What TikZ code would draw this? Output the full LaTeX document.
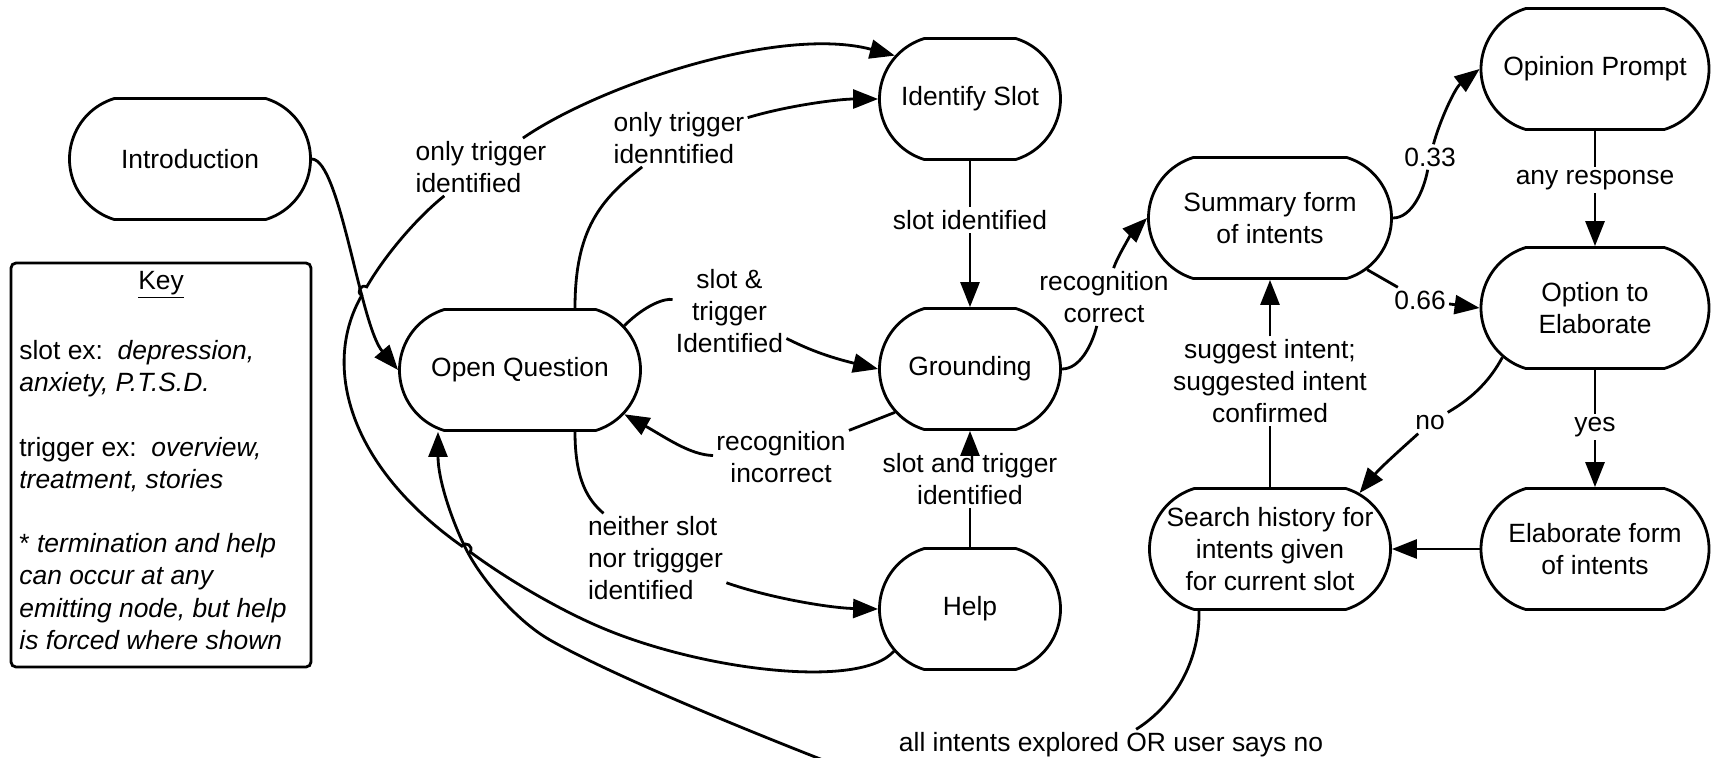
\documentclass[tikz,border=0pt]{standalone}
\usepackage{fontspec}
\setmainfont{Liberation Sans}
\usetikzlibrary{shapes.misc, arrows.meta}
\begin{document}
\begin{tikzpicture}[x=0.5pt, y=-0.5pt,
  every node/.style={font=\fontsize{13.2}{15.8}\selectfont},
  statebox/.style={draw, line width=1.4pt, rounded rectangle, rounded rectangle arc length=146, minimum height=60.5pt, inner sep=0pt},
  lbl/.style={inner sep=1.5pt, align=center},
  edge/.style={line width=1.4pt},
  arr/.style={line width=1.4pt, -{Triangle[length=12.5pt,width=9.5pt]}},
  keybox/.style={draw, line width=1.4pt, rounded corners=2.5pt, minimum width=150pt, minimum height=202pt, inner sep=0pt}
]
\useasboundingbox (0,0) rectangle (1719,757);

% ---- states ----
\node[statebox, minimum width=120.5pt, label={center:Introduction}] (intro) at (190,159) {};
\node[statebox, minimum width=120.5pt, label={center:Open Question}] (oq) at (520,370) {};
\node[statebox, minimum width=90.5pt, label={center:Identify Slot}] (idslot) at (970,99) {};
\node[statebox, minimum width=90.5pt, label={center:Grounding}] (ground) at (970,369) {};
\node[statebox, minimum width=90.5pt, label={center:Help}] (help) at (970,609) {};
\node[statebox, minimum width=121.5pt, label={[align=center]center:Summary form\\of intents}] (summ) at (1270,218) {};
\node[statebox, minimum width=114pt, label={center:Opinion Prompt}] (opin) at (1595,69) {};
\node[statebox, minimum width=114pt, label={[align=center]center:Option to\\Elaborate}] (option) at (1595,308) {};
\node[statebox, minimum width=120.5pt, label={[align=center]center:Search history for\\intents given\\for current slot}] (search) at (1270,549) {};
\node[statebox, minimum width=114pt, label={[align=center]center:Elaborate form\\of intents}] (elab) at (1595,549) {};

% ---- key ----
\node[keybox] (key) at (161,465) {};
\node (keytitle) at (161,285) {\underline{Key}};
\node[anchor=north west, align=left, inner sep=0pt, font=\fontsize{13.2}{16.1}\selectfont] (keytext) at (19,340)
  {slot ex:\ \ \textit{depression,}\\ \textit{anxiety, P.T.S.D.}\\[16.1pt]
   trigger ex:\ \ \textit{overview,}\\ \textit{treatment, stories}\\[16.1pt]
   * \textit{termination and help}\\ \textit{can occur at any}\\ \textit{emitting node, but help}\\ \textit{is forced where shown}};

% ---- edge labels ----
\node[lbl, align=left] (lOnlyA) at (481,167) {only trigger\\identified};
\node[lbl, align=left] (lOnlyB) at (679,138) {only trigger\\idenntified};
\node[lbl] (lSlotTrig) at (729.5,311) {slot \&\\trigger\\Identified};
\node[lbl] (lSlotId) at (970,220) {slot identified};
\node[lbl] (lRecInc) at (781,457) {recognition\\incorrect};
\node[lbl] (lSlotAnd) at (970,479) {slot and trigger\\identified};
\node[lbl, align=left] (lNeither) at (655.5,558) {neither slot\\nor triggger\\identified};
\node[lbl] (lRecCor) at (1104,297) {recognition\\correct};
\node[lbl] (l033) at (1430,157) {0.33};
\node[lbl] (l066) at (1420,300) {0.66};
\node[lbl] (lAny) at (1595,180) {any response};
\node[lbl] (lNo) at (1430,423) {no};
\node[lbl] (lYes) at (1595,427) {yes};
\node[lbl] (lSugg) at (1270,381) {suggest intent;\\suggested intent\\confirmed};
\node[lbl] (lAll) at (1111,745) {all intents explored OR user says no};
\coordinate (lStart) at (880,782);

% ---- edges ----
% Introduction -> Open Question
\draw[arr] (intro.east) .. controls (340,160) and (360,325) .. (oq.west);
% Open Question -> Identify Slot
\draw[edge] ([xshift=27.5pt]oq.north) .. controls (575,230) and (600,200) .. (lOnlyB);
\draw[arr] (lOnlyB) .. controls (790,105) and (840,99) .. (idslot.west);
% Open Question -> Grounding
\draw[edge] (oq.23) .. controls (645,305) and (665,298) .. (lSlotTrig);
\draw[arr] (lSlotTrig) .. controls (800,345) and (820,355) .. (ground.west);
% Identify Slot -> Grounding
\draw[edge] (idslot) -- (lSlotId);
\draw[arr] (lSlotId) -- (ground);
% Grounding -> Open Question
\draw[edge] (ground.210) -- (lRecInc);
\draw[arr] (lRecInc) .. controls (690,455) and (665,437) .. (oq.337);
% Help -> Grounding
\draw[edge] (help) -- (lSlotAnd);
\draw[arr] (lSlotAnd) -- (ground);
% Open Question -> Help
\draw[edge] ([xshift=27.5pt]oq.south) .. controls (575,480) and (588,500) .. (lNeither);
\draw[arr] (lNeither) .. controls (770,598) and (830,608) .. (help.west);
% Grounding -> Summary
\draw[edge] (ground.east) .. controls (1080,369) and (1092,345) .. (lRecCor);
\draw[arr] (lRecCor) .. controls (1118,255) and (1133,232) .. (summ.west);
% Summary -> Opinion Prompt
\draw[edge] (summ.east) .. controls (1412,218) and (1424,190) .. (l033);
\draw[arr] (l033) .. controls (1440,120) and (1455,88) .. (opin.west);
% Summary -> Option to Elaborate
\draw[edge] (summ.332) -- (l066);
\draw[arr] (l066) -- (option.west);
% Opinion Prompt -> Option
\draw[edge] (opin) -- (lAny);
\draw[arr] (lAny) -- (option);
% Option -> Search (no)
\draw[edge] (option.208) .. controls (1485,390) and (1460,405) .. (lNo);
\draw[arr] (lNo) .. controls (1400,450) and (1380,468) .. (search.32);
% Option -> Elaborate (yes)
\draw[edge] (option) -- (lYes);
\draw[arr] (lYes) -- (elab);
% Elaborate -> Search
\draw[arr] (elab.west) -- (search.east);
% Search -> Summary
\draw[edge] (search) -- (lSugg);
\draw[arr] (lSugg) -- (summ);
% Search -> Open Question (all intents explored OR user says no)
\draw[edge] ([xshift=-35.5pt]search.south) .. controls (1200,660) and (1175,705) .. (lAll);
\draw[arr] (lStart) .. controls (790,748) and (620,680) .. (550,640)
  .. controls (515,620) and (480,577) .. (466,549)
  .. controls (452,521) and (438,480) .. ([xshift=-41pt]oq.south);
% Help -> Identify Slot (only trigger identified), with line jumps
\draw[edge] (help.209) .. controls (860,690) and (700,670) .. (600,627)
  .. controls (560,610) and (508,580) .. (470.1,551.9)
  .. controls (473.95,546.46) and (465.75,540.66) .. (461.9,546.1)
  .. controls (347.7,465.2) and (321.7,364.8) .. (361.7,295.5)
  .. controls (355.9,292.2) and (360.9,283.6) .. (366.7,286.9)
  .. controls (386.7,252.3) and (420,215) .. (lOnlyA);
\draw[arr] (lOnlyA) .. controls (600,85) and (780,25) .. (idslot.150);
\end{tikzpicture}
\end{document}
